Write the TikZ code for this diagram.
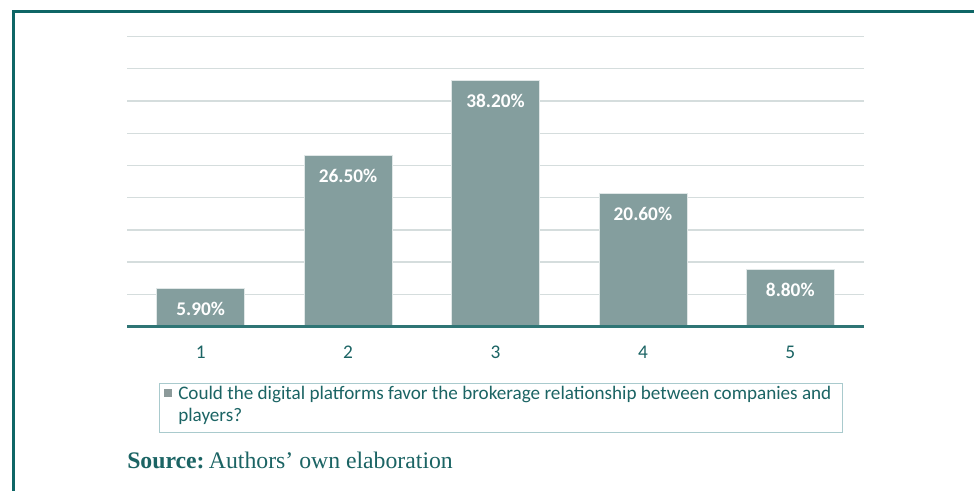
\documentclass[tikz,border=0pt]{standalone}
\usepackage{fontspec}
\setmainfont{Liberation Serif}
\newfontfamily\calibri{Carlito}
\definecolor{frameteal}{HTML}{0E6666}
\definecolor{barteal}{HTML}{849E9E}
\definecolor{gridgray}{HTML}{D5DDDD}
\definecolor{axisteal}{HTML}{2F7575}
\definecolor{textteal}{HTML}{1B6464}
\definecolor{legendline}{HTML}{A9CACD}
\definecolor{keygray}{HTML}{8C9A9A}
\begin{document}
\begin{tikzpicture}[x=0.75pt,y=-0.75pt,
    bar/.style={fill=barteal,draw=white!75!barteal,line width=0.5pt,inner sep=0pt,minimum width=66pt,anchor=south},
    barlabel/.style={text=white,font=\calibri\bfseries\fontsize{14.5}{17}\selectfont},
    ticklabel/.style={text=textteal,font=\calibri\fontsize{14.5}{17}\selectfont},
    legendtext/.style={text=textteal,anchor=base west,inner sep=0pt,font=\calibri\fontsize{14.35}{17}\selectfont}]
\useasboundingbox (0,0) rectangle (974,491);
\fill[white] (0,0) rectangle (974,491);
% frame
\draw[frameteal,line width=2.3pt] (13.5,491) -- (13.5,11.5) -- (974,11.5);
% grid
\foreach \k in {1,...,9}
    \draw[gridgray,line width=1pt] (127,{326.5-\k*32.22}) -- (864,{326.5-\k*32.22});
% bars
\foreach \i/\v/\t in {1/5.9/5.90,2/26.5/26.50,3/38.2/38.20,4/20.6/20.60,5/8.8/8.80}{
    \node[bar,minimum height=\v*4.833pt] (bar\i) at ({127+(\i-0.5)*147.4},326.5) {};
    \node[barlabel] (val\i) at ([yshift=-15.75pt]bar\i.north) {\t\%};
    \node[ticklabel] (cat\i) at ({127+(\i-0.5)*147.4},352) {\i};
}
\draw[axisteal,line width=2.2pt] (127,326.5) -- (864,326.5);
% legend
\node[draw=legendline,line width=0.8pt,inner sep=0pt,minimum width=512.25pt,minimum height=36.75pt,anchor=north west] (legend) at (159,383) {};
\node[fill=keygray,inner sep=0pt,minimum size=6pt] (key) at (168,393) {};
\node[legendtext] (leg1) at (178,399.3) {Could the digital platforms favor the brokerage relationship between companies and};
\node[legendtext] (leg2) at (178,421.3) {players?};
% source
\node[anchor=base west,inner sep=0pt,text=textteal,font=\fontsize{17.8}{21}\selectfont] (source) at (127,468) {\textbf{Source:}\hspace{-0.15em} Authors’ own elaboration};
\end{tikzpicture}
\end{document}
